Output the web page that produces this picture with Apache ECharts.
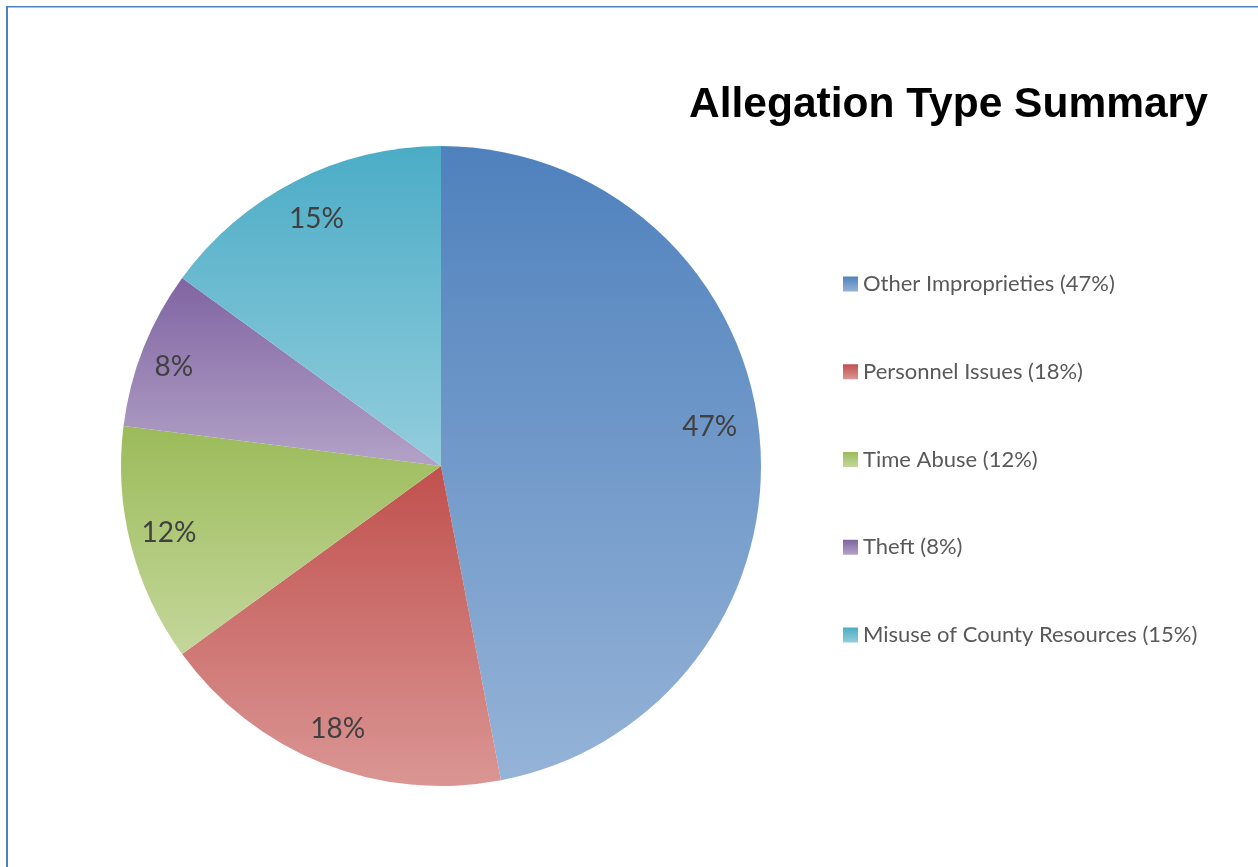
<!DOCTYPE html>
<html>
<head>
<meta charset="utf-8">
<script src="https://cdn.jsdelivr.net/npm/echarts@6/dist/echarts.min.js"></script>
<style>html,body{margin:0;padding:0;background:#fff;}#c{width:1258px;height:867px;}</style>
</head>
<body>
<div id="c"></div>
<script>
const categories = ['Other Improprieties', 'Personnel Issues', 'Time Abuse', 'Theft', 'Misuse of County Resources'];
const values = [47, 18, 12, 8, 15];
const topColors = ['#4F81BD', '#C0504D', '#9BBB59', '#8064A2', '#4BACC6'];
const bottomColors = ['#95B3D7', '#DA9694', '#C4D79B', '#B3A2C7', '#93CDDD'];
const titleText = 'Allegation Type Summary';

const chart = echarts.init(document.getElementById('c'), null, {renderer: 'canvas'});
function grad(i) {
  return new echarts.graphic.LinearGradient(0, 0, 0, 1, [
    {offset: 0, color: topColors[i]},
    {offset: 1, color: bottomColors[i]}
  ]);
}
const total = values.reduce((a, b) => a + b, 0);
const mainData = categories.map((c, i) => ({name: c, value: values[i], itemStyle: {color: grad(i)}}));
const labelOffsets = [[-13, -12], [1, 0], [2, -3], [-4, 5], [4, 5]];
const labelData = categories.map((c, i) => ({
  name: c, value: values[i],
  label: {offset: labelOffsets[i]}
}));

chart.setOption({
  animation: false,
  backgroundColor: '#ffffff',
  title: {
    text: titleText,
    left: 689, top: 84, padding: 0,
    textStyle: {fontFamily: 'Liberation Sans, Arial', fontWeight: 'bold', fontSize: 42.5, color: '#000000'}
  },
  legend: {
    orient: 'vertical',
    left: 843, top: 273,
    padding: 0,
    itemWidth: 15, itemHeight: 15,
    itemGap: 65.75,
    icon: 'rect',
    data: categories,
    formatter: function (name) {
      const i = categories.indexOf(name);
      return name + ' (' + Math.round(values[i] / total * 100) + '%)';
    },
    textStyle: {fontFamily: 'Lato', fontSize: 22, color: '#595959', lineHeight: 20, padding: [0, 0, 0, 0]}
  },
  graphic: [
    {type: 'line', shape: {x1: 7, y1: 6, x2: 7, y2: 870}, style: {stroke: '#4F81BD', lineWidth: 2}, z: 100},
    {type: 'line', shape: {x1: 6, y1: 6.75, x2: 1270, y2: 6.75}, style: {stroke: '#4F81BD', lineWidth: 1.5}, z: 100}
  ],
  series: [
    {
      type: 'pie',
      name: 'main',
      center: [441, 466],
      radius: [0, 320],
      startAngle: 90,
      clockwise: true,
      avoidLabelOverlap: false,
      label: {show: false},
      labelLine: {show: false},
      emphasis: {disabled: true},
      data: mainData
    },
    {
      type: 'pie',
      name: 'labels',
      center: [441, 466],
      radius: [240, 320],
      startAngle: 90,
      clockwise: true,
      silent: true,
      avoidLabelOverlap: false,
      itemStyle: {color: 'rgba(0,0,0,0)'},
      labelLine: {show: false},
      emphasis: {disabled: true},
      label: {
        show: true,
        position: 'inside',
        formatter: function (p) { return Math.round(p.value / total * 100) + '%'; },
        fontFamily: 'Lato', fontSize: 28, color: '#404040'
      },
      data: labelData
    }
  ]
});
</script>
</body>
</html>
